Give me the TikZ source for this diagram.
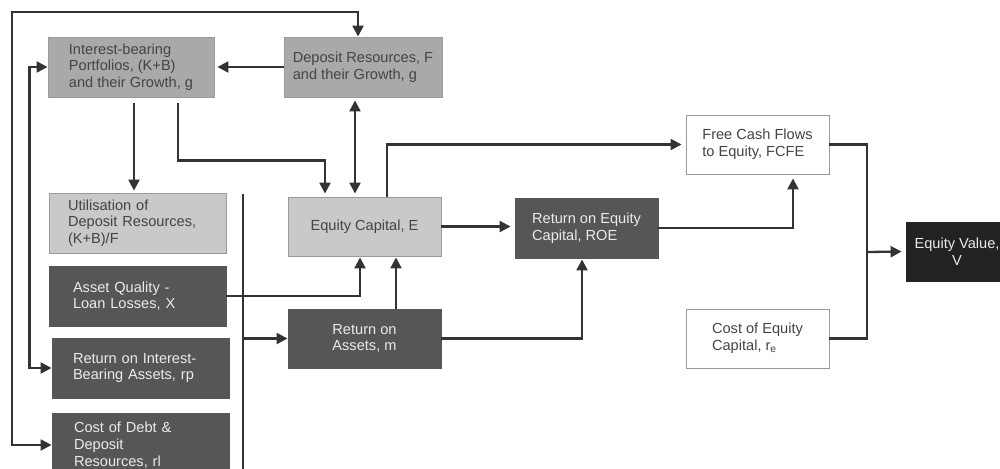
\documentclass[tikz,border=0pt]{standalone}
\usepackage{fontspec}
\setmainfont{Liberation Sans}
\usetikzlibrary{arrows.meta}
\definecolor{midg}{HTML}{A9A9A9}
\definecolor{lightg}{HTML}{C9C9C9}
\definecolor{darkg}{HTML}{565656}
\definecolor{blackg}{HTML}{222222}
\definecolor{bordg}{HTML}{9A9A9A}
\definecolor{lineg}{HTML}{333333}
\definecolor{txtd}{HTML}{444444}
\definecolor{txtl}{HTML}{EBEBEB}
\begin{document}
\begin{tikzpicture}[x=1pt,y=-1pt,
  box/.style={draw=bordg, line width=0.9pt, inner sep=0pt, align=left,
    font=\fontsize{14.6}{16.7}\selectfont},
  mbox/.style={box, fill=midg, text=txtd},
  lbox/.style={box, fill=lightg, text=txtd},
  dbox/.style={box, fill=darkg, draw=darkg, text=txtl},
  wbox/.style={box, fill=white, text=txtd},
  bbox/.style={box, fill=blackg, draw=blackg, text=txtl, align=center},
  conn/.style={draw=lineg, line width=2.3pt},
  arr/.style={conn, -{Triangle[length=11pt,width=11pt]}},
  arrb/.style={conn, {Triangle[length=11pt,width=11pt]}-{Triangle[length=11pt,width=11pt]}}
]
\useasboundingbox (0,0) rectangle (1000,468);
\fill[white] (0,0) rectangle (1000,468);

% nodes
\node[mbox, minimum width=166pt, minimum height=60pt] (ib) at (131,67)
  {Interest-bearing\\Portfolios, (K+B)\\and their Growth, g};
\node[mbox, minimum width=158pt, minimum height=60pt] (dr) at (363,67)
  {Deposit Resources, F\\and their Growth, g};
\node[lbox, minimum width=177pt, minimum height=60pt, text width=139pt] (ut) at (137.5,223)
  {Utilisation of\\Deposit Resources,\\(K+B)/F};
\node[dbox, minimum width=177pt, minimum height=60pt, text width=129pt] (aq) at (137.5,296)
  {Asset Quality -\\Loan Losses, X};
\node[dbox, minimum width=177pt, minimum height=60pt, text width=135pt] (ri) at (140.5,368)
  {Return on Interest-\\Bearing Assets, rp};
\node[dbox, minimum width=177pt, minimum height=64pt, text width=133pt] (cd) at (140.5,445)
  {Cost of Debt \&\\Deposit\\Resources, rl};
\node[lbox, minimum width=153pt, minimum height=59pt] (ec) at (364.5,226.5)
  {Equity Capital, E};
\node[dbox, minimum width=153pt, minimum height=59pt] (ra) at (364.5,338.5)
  {Return on\\Assets, m};
\node[dbox, minimum width=143pt, minimum height=60pt] (roe) at (586.5,228)
  {Return on Equity\\Capital, ROE};
\node[wbox, minimum width=143pt, minimum height=59pt] (fcfe) at (757.5,144.5)
  {Free Cash Flows\\to Equity, FCFE};
\node[wbox, minimum width=143pt, minimum height=59pt] (coe) at (757.5,338.5)
  {Cost of Equity\\Capital, r\textsubscript{e}};
\node[bbox, minimum width=102pt, minimum height=59pt] (ev) at (957,251.5)
  {Equity Value,\\V};

% helper coordinates
\coordinate (L1) at (12,12);
\coordinate (vt) at (243,194);
\coordinate (vb) at (243,475);
\coordinate (J) at (867,252);

% connectors
\draw[arrb] (cd.west) -| (L1) -| ([xshift=-5pt]dr.north);
\draw[arrb] (ri.west) -| ([xshift=-18pt]ib.west) -- (ib.west);
\draw[arr, shorten >=3pt] (dr.west) -- (ib.east);
\draw[arr, shorten <=6pt, shorten >=2pt] ([xshift=3pt]ib.south) -- ([xshift=-3.5pt]ut.north);
\draw[arr, shorten <=6pt, shorten >=3pt] ([xshift=47pt]ib.south) -- ++(0,63) -| ([xshift=-39.5pt]ec.north);
\draw[arrb, shorten <=3pt, shorten >=3pt] ([xshift=-8pt]dr.south) -- ([xshift=-9.5pt]ec.north);
\draw[arr, shorten >=4pt] ([xshift=22.5pt]ec.north) |- (fcfe.west);
\draw[conn] (vt) -- (vb);
\draw[arr, shorten >=1pt] (aq.east) -| ([xshift=-4.5pt]ec.south);
\draw[arr, shorten >=1pt] ([xshift=31.5pt]ra.north) -- ([xshift=31.5pt]ec.south);
\draw[arr] (ra.west -| vt) -- (ra.west);
\draw[arr, shorten >=1pt] (ra.east) -| ([xshift=-4.5pt]roe.south);
\draw[arr, shorten >=4pt] (ec.east) -- (ec.east -| roe.west);
\draw[arr, shorten >=4pt] (roe.east) -| ([xshift=35.5pt]fcfe.south);
\draw[conn] (fcfe.east) -| (J) |- (coe.east);
\draw[arr, shorten >=4pt] (J) -- (ev.west);
\end{tikzpicture}
\end{document}
